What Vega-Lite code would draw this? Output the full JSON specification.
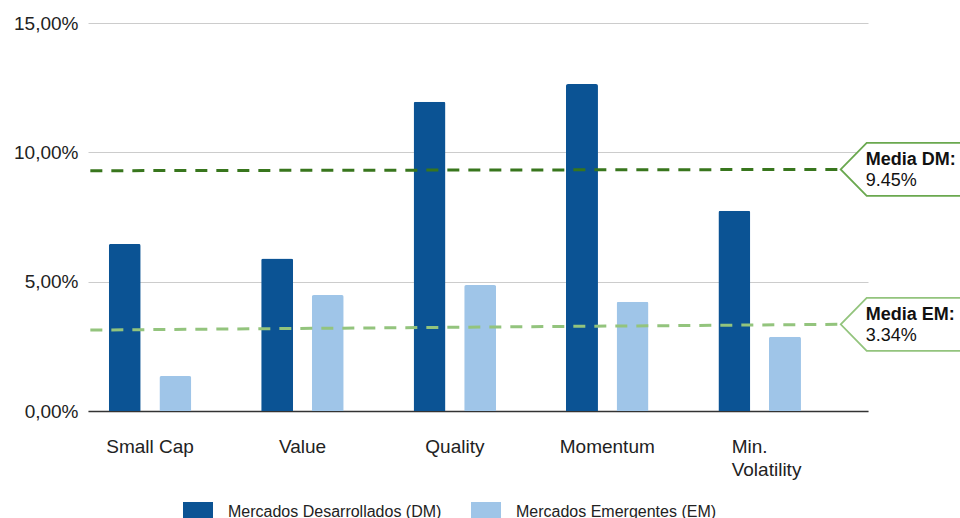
{
  "$schema": "https://vega.github.io/schema/vega-lite/v6.json",
  "width": 780,
  "height": 388,
  "autosize": {"type": "none"},
  "padding": {"left": 88, "top": 23, "right": 92, "bottom": 107},
  "config": {"font": "Liberation Sans", "view": {"stroke": null}},
  "datasets": {
    "bars": [
      {"factor": "Small Cap", "market": "Mercados Desarrollados (DM)", "value": 6.46},
      {"factor": "Small Cap", "market": "Mercados Emergentes (EM)", "value": 1.35},
      {"factor": "Value", "market": "Mercados Desarrollados (DM)", "value": 5.90},
      {"factor": "Value", "market": "Mercados Emergentes (EM)", "value": 4.48},
      {"factor": "Quality", "market": "Mercados Desarrollados (DM)", "value": 11.96},
      {"factor": "Quality", "market": "Mercados Emergentes (EM)", "value": 4.87},
      {"factor": "Momentum", "market": "Mercados Desarrollados (DM)", "value": 12.64},
      {"factor": "Momentum", "market": "Mercados Emergentes (EM)", "value": 4.22},
      {"factor": "Min. Volatility", "market": "Mercados Desarrollados (DM)", "value": 7.74},
      {"factor": "Min. Volatility", "market": "Mercados Emergentes (EM)", "value": 2.87}
    ],
    "lines": [
      {"series": "DM", "pos": 0.3, "value": 9.29},
      {"series": "DM", "pos": 96.5, "value": 9.34},
      {"series": "EM", "pos": 0.3, "value": 3.13},
      {"series": "EM", "pos": 96.5, "value": 3.35}
    ],
    "callouts": [
      {"series": "DM", "pos": 96.5, "value": 9.34, "title": "Media DM:", "label": "9.45%"},
      {"series": "EM", "pos": 96.5, "value": 3.35, "title": "Media EM:", "label": "3.34%"}
    ]
  },
  "layer": [
    {
      "data": {"name": "bars"},
      "mark": {"type": "bar", "cornerRadiusTopLeft": 2, "cornerRadiusTopRight": 2},
      "encoding": {
        "x": {
          "field": "factor", "type": "nominal", "sort": null,
          "scale": {"paddingInner": 0.3, "paddingOuter": 0.209, "align": 0.137},
          "axis": {
            "title": null, "ticks": false, "grid": false,
            "domainColor": "#333333", "domainWidth": 1.5,
            "labelFontSize": 19, "labelColor": "#222222", "labelAngle": 0,
            "labelBaseline": "middle", "labelPadding": 35, "labelLineHeight": 23,
            "labelExpr": "datum.value == 'Min. Volatility' ? ['Min.', 'Volatility'] : datum.label",
            "labelAlign": {"condition": {"test": "datum.value == 'Min. Volatility'", "value": "left"}, "value": "center"},
            "labelOffset": {"condition": {"test": "datum.value == 'Min. Volatility'", "value": -28}, "value": 0}
          }
        },
        "xOffset": {
          "field": "market", "type": "nominal",
          "scale": {"domain": ["Mercados Desarrollados (DM)", "Mercados Emergentes (EM)"], "paddingInner": 0.368, "paddingOuter": 0.238}
        },
        "y": {
          "field": "value", "type": "quantitative",
          "scale": {"domain": [0, 15], "nice": false},
          "axis": {
            "title": null, "values": [0, 5, 10, 15],
            "labelExpr": "replace(format(datum.value, '.2f'), '.', ',') + '%'",
            "domain": false, "ticks": false, "labelPadding": 10,
            "labelFontSize": 19, "labelColor": "#222222",
            "gridColor": "#cccccc", "gridWidth": 1
          }
        },
        "color": {
          "field": "market", "type": "nominal",
          "scale": {"domain": ["Mercados Desarrollados (DM)", "Mercados Emergentes (EM)"], "range": ["#0b5394", "#9fc5e8"]},
          "legend": {
            "orient": "none", "legendX": 95, "legendY": 479,
            "direction": "horizontal", "title": null,
            "symbolType": "square", "symbolSize": 900, "symbolStrokeWidth": 0,
            "labelFontSize": 16, "labelColor": "#222222", "labelLimit": 400,
            "labelBaseline": "alphabetic",
            "columnPadding": 29, "labelOffset": 15
          }
        }
      }
    },
    {
      "data": {"name": "lines"},
      "mark": {"type": "line", "strokeDash": [12, 9], "strokeWidth": 3},
      "encoding": {
        "x": {"field": "pos", "type": "quantitative", "scale": {"domain": [0, 100], "nice": false}, "axis": null},
        "y": {"field": "value", "type": "quantitative"},
        "stroke": {"field": "series", "type": "nominal", "scale": {"domain": ["DM", "EM"], "range": ["#38761d", "#93c47d"]}, "legend": null}
      }
    },
    {
      "data": {"name": "callouts"},
      "mark": {"type": "point", "shape": "M0,0L0.26,-0.265L1.4,-0.265L1.4,0.265L0.26,0.265Z", "size": 40000, "filled": false, "fill": "white", "fillOpacity": 1, "opacity": 1, "strokeWidth": 1.8},
      "encoding": {
        "x": {"field": "pos", "type": "quantitative", "scale": {"domain": [0, 100], "nice": false}, "axis": null},
        "y": {"field": "value", "type": "quantitative"},
        "stroke": {"field": "series", "type": "nominal", "scale": {"domain": ["DM", "EM"], "range": ["#6aa84f", "#93c47d"]}, "legend": null}
      }
    },
    {
      "data": {"name": "callouts"},
      "mark": {"type": "text", "align": "left", "baseline": "alphabetic", "dx": 25, "dy": -4, "fontSize": 18, "fontWeight": "bold", "color": "#111111"},
      "encoding": {
        "x": {"field": "pos", "type": "quantitative", "scale": {"domain": [0, 100], "nice": false}, "axis": null},
        "y": {"field": "value", "type": "quantitative"},
        "text": {"field": "title"}
      }
    },
    {
      "data": {"name": "callouts"},
      "mark": {"type": "text", "align": "left", "baseline": "alphabetic", "dx": 25, "dy": 17, "fontSize": 18, "color": "#111111"},
      "encoding": {
        "x": {"field": "pos", "type": "quantitative", "scale": {"domain": [0, 100], "nice": false}, "axis": null},
        "y": {"field": "value", "type": "quantitative"},
        "text": {"field": "label"}
      }
    }
  ],
  "resolve": {"scale": {"x": "independent", "stroke": "independent"}}
}
